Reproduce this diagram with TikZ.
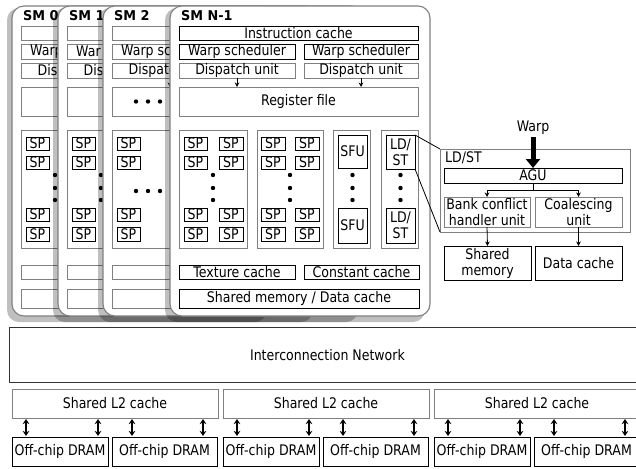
\documentclass[tikz,border=0pt]{standalone}
\usepackage{fontspec}
\setmainfont{DejaVu Sans}[FakeStretch=0.86]
\newfontfamily\smlabelfont{DejaVu Sans}[FakeStretch=0.95]
\usetikzlibrary{arrows.meta,calc}

\definecolor{edgegray}{gray}{0.5}
\definecolor{linegray}{gray}{0.5}

\tikzset{
  txt/.style={font=\fontsize{14.6}{16}\selectfont},
  blk/.style={draw=black, line width=0.9pt, fill=white, txt, inner sep=0pt, outer sep=0pt, align=center},
  gry/.style={draw=linegray, line width=0.9pt, fill=white, txt, inner sep=0pt, outer sep=0pt, align=center},
  spb/.style={blk},
  tip/.style={line width=0.8pt, -{Stealth[width=4.5pt,length=4.5pt]}},
  dbl/.style={line width=1.4pt, {Stealth[width=6.5pt,length=5pt]}-{Stealth[width=6.5pt,length=5pt]}},
  smlabel/.style={font=\smlabelfont\bfseries\fontsize{13.5}{14}\selectfont, inner sep=0pt, anchor=west},
  cardtxt/.style={txt, inner sep=0pt, anchor=west},
}

% box node from its corners (x1,y1)-(x2,y2)
\newcommand\bnode[7]{\node[#6, anchor=north west, minimum width={(#4)-(#2)}, minimum height={(#5)-(#3)}] (#1) at (#2,#3) {#7};}
% one column of four SP boxes
\newcommand\spcol[3]{%
  \bnode{#1r1}{#2}{137}{#3}{150}{spb}{SP}%
  \bnode{#1r2}{#2}{156}{#3}{169}{spb}{SP}%
  \bnode{#1r3}{#2}{208}{#3}{221}{spb}{SP}%
  \bnode{#1r4}{#2}{227}{#3}{241}{spb}{SP}}
% vertical ellipsis dots
\newcommand\dotcol[1]{\foreach \yy in {175,188,200} \fill (#1,\yy) circle (2.2);}
% horizontal ellipsis dots
\newcommand\dotrow[1]{\foreach \xx in {33,45,57} \fill (\xx,#1) circle (2.2);}

% card outline with its drop shadow
\newcommand\cardframe[2]{%
  \fill[black, fill opacity=0.25, rounded corners=12pt] (-5,8) rectangle (255,322);
  \draw[edgegray, line width=1.1pt, fill=white, rounded corners=12pt] (0,6) rectangle (260,316);
  \node[smlabel] (#1lab) at (11,16) {#2};}

% partly covered SM card: #1 prefix, #2 left edge, #3 label, #4 variant,
% #5 scheduler text, #6 dispatch text
\newcommand\backcard[6]{%
\begin{scope}[shift={(#2,0)}]
  \cardframe{#1}{#3}
  \bnode{#1ic}{9}{26}{248}{40}{gry}{}
  \bnode{#1wsl}{9}{44}{125}{59}{gry}{}
  \node[cardtxt] (#1wst) at (18,51.5) {#5};
  \bnode{#1dul}{9}{63}{125}{78}{gry}{}
  \node[cardtxt] (#1dut) at (25.5,70.5) {#6};
  \bnode{#1rf}{9}{87}{248}{116}{gry}{}
  \draw[tip] (#1dul.south) -- (#1dul.south |- #1rf.north);
  \bnode{#1ca}{9}{130}{77}{248}{gry}{}
  \spcol{#1cal}{14}{37}
  \ifnum#4=1
    \dotrow{101.5}
    \dotrow{191}
  \else
    \dotcol{43}
  \fi
  \bnode{#1tex}{9}{265}{125}{279}{gry}{}
  \bnode{#1sh}{9}{289}{249}{308}{gry}{}
\end{scope}}

% fully visible SM card: #1 prefix, #2 left edge, #3 label
\newcommand\frontcard[3]{%
\begin{scope}[shift={(#2,0)}]
  \cardframe{#1}{#3}
  \bnode{#1ic}{9}{26}{248}{40}{blk}{Instruction cache}
  \bnode{#1wsl}{9}{44}{125}{59}{blk}{Warp scheduler}
  \bnode{#1wsr}{134}{44}{248}{59}{blk}{Warp scheduler}
  \bnode{#1dul}{9}{63}{125}{78}{gry}{Dispatch unit}
  \bnode{#1dur}{134}{63}{248}{78}{gry}{Dispatch unit}
  \bnode{#1rf}{9}{87}{248}{116}{gry}{Register file}
  \draw[tip] (#1dul.south) -- (#1dul.south |- #1rf.north);
  \draw[tip] (#1dur.south) -- (#1dur.south |- #1rf.north);
  \bnode{#1ca}{9}{130}{77}{248}{gry}{}
  \spcol{#1cal}{14}{37}
  \spcol{#1car}{49}{73}
  \dotcol{43}
  \bnode{#1cb}{87}{130}{153}{248}{gry}{}
  \spcol{#1cbl}{91}{115}
  \spcol{#1cbr}{125}{149}
  \dotcol{120}
  \bnode{#1sf}{163}{130}{200}{248}{gry}{}
  \bnode{#1sfa}{168}{135}{197}{168}{blk}{SFU}
  \bnode{#1sfb}{168}{208}{197}{243}{blk}{SFU}
  \dotcol{182.5}
  \bnode{#1ls}{211}{130}{248}{248}{gry}{}
  \bnode{#1lsa}{216}{135}{245}{169}{blk}{LD/\\ST}
  \bnode{#1lsb}{216}{208}{245}{243}{blk}{LD/\\ST}
  \dotcol{230.5}
  \bnode{#1tex}{9}{265}{125}{279}{blk}{Texture cache}
  \bnode{#1con}{134}{265}{249}{279}{blk}{Constant cache}
  \bnode{#1sh}{9}{289}{249}{308}{blk}{Shared memory / Data cache}
\end{scope}}

\begin{document}
\begin{tikzpicture}[x=1pt,y=-1pt]
\useasboundingbox (0,0) rectangle (636,468);
\clip (0,0) rectangle (636,468);
\fill[white] (0,0) rectangle (636,468);

% stacked SM cards, back to front
\backcard{a}{12}{SM 0}{0}{Warp}{Dis}
\backcard{b}{58}{SM 1}{0}{War}{Dis}
\backcard{c}{103}{SM 2}{1}{Warp sc}{Dispatc}
\frontcard{d}{170}{SM N-1}

% LD/ST unit detail
\bnode{pan}{440}{149}{630}{232}{gry}{}
\node[txt, anchor=west, inner sep=0pt] (panlab) at (445,158) {LD/ST};
\bnode{agu}{444}{168}{622}{183}{blk}{AGU}
\bnode{bank}{444}{197}{530}{227}{gry}{Bank conflict\\handler unit}
\bnode{coal}{535}{197}{622}{227}{gry}{Coalescing\\unit}
\bnode{shm}{444}{246}{531}{280}{blk}{Shared\\memory}
\bnode{dc}{535}{246}{622}{280}{blk}{Data cache}
\node[txt, inner sep=0pt] (warp) at (533,128) {Warp};
\draw[line width=5pt, -{Triangle[width=14pt,length=9pt]}] ($(warp.south)+(0,2)$) -- (agu.north);
\draw[line width=0.8pt] (agu.south) -- ++(0,7) coordinate (split);
\draw[tip] (split) -| (bank.north);
\draw[tip] (split) -| (coal.north);
\draw[tip] (bank.south) -- (shm.north);
\draw[tip] (coal.south) -- (dc.north);
\draw[line width=0.8pt] (dlsa.north east) -- (pan.north west);
\draw[line width=0.8pt] (dlsa.south east) -- (pan.south west);

% interconnect
\bnode{icn}{9}{327}{645}{382}{draw=black!80, line width=0.9pt, txt, inner sep=0pt}{Interconnection Network}

% L2 slices and DRAM channels
\foreach \g/\L in {1/12, 2/223, 3/434} {
  \bnode{ltwo\g}{\L}{389}{\L+206}{418}{gry}{Shared L2 cache}
  \bnode{dramA\g}{\L}{437}{\L+96}{466}{blk}{Off-chip DRAM}
  \bnode{dramB\g}{\L+100}{437}{\L+205}{466}{blk}{Off-chip DRAM}
  \foreach \o in {14,86}
    \draw[dbl] ($(ltwo\g.south west)+(\o,1)$) -- ($(dramA\g.north west)+(\o,-1)$);
  \foreach \o in {20,91}
    \draw[dbl] ($(ltwo\g.south west)+(\o+100,1)$) -- ($(dramB\g.north west)+(\o,-1)$);
}
\end{tikzpicture}
\end{document}
